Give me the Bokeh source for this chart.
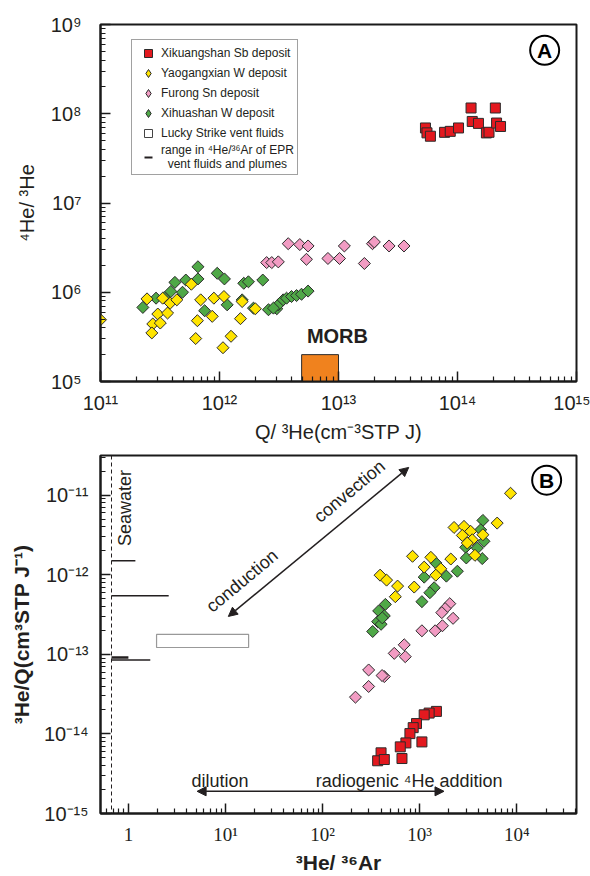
import numpy as np
from bokeh.plotting import figure
from bokeh.models import (FixedTicker, Legend, LegendItem, Arrow, NormalHead, Span, Range1d)
from bokeh.layouts import column
from bokeh.embed import file_html
from bokeh.resources import INLINE
from bokeh.core.properties import value

# ---------------- Panel A data: Q/3He vs 4He/3He ----------------
xik_a_q = [5.38e13, 5.54e13, 5.92e13, 7.79e13, 8.69e13, 1.02e14, 1.30e14, 1.33e14,
           1.50e14, 1.75e14, 1.84e14, 2.08e14, 2.13e14, 2.30e14]
xik_a_r = [6.93e7, 6.11e7, 5.60e7, 6.19e7, 6.35e7, 6.93e7, 1.16e8, 8.2e7,
           7.8e7, 6.1e7, 6.2e7, 1.16e8, 7.87e7, 7.2e7]

yao_a_q = [2.46e11, 3.33e11, 3.85e11, 4.38e11, 3.03e11, 3.66e11, 2.75e11, 3.18e11,
           2.7e11, 5.8e11, 6.95e11, 6.52e11, 8.97e11, 1.09e12, 8.69e11, 6.31e11,
           1.07e12, 1.25e12, 1.55e12, 1.5e12, 2.0e12, 1.0e11]
yao_a_r = [8.43e5, 8.58e5, 7.55e5, 8.22e5, 5.7e5, 5.85e5, 4.41e5, 4.52e5,
           3.5e5, 1.23e6, 8.22e5, 4.8e5, 8.58e5, 8.96e5, 5.37e5, 3.03e5,
           2.39e5, 3.21e5, 7.87e5, 5.06e5, 6.53e5, 4.92e5]

fur_a_q = [3.78e12, 4.73e12, 5.55e12, 2.49e12, 2.75e12, 3.12e12, 5.38e12, 8.15e12,
           1.02e13, 1.12e13, 1.65e13, 1.93e13, 2.0e13, 2.66e13, 3.55e13]
fur_a_r = [3.5e6, 3.42e6, 3.3e6, 2.15e6, 2.15e6, 2.19e6, 2.34e6, 2.39e6,
           2.39e6, 3.3e6, 2.1e6, 3.5e6, 3.66e6, 3.3e6, 3.3e6]

xih_a_q = [2.27e11, 2.93e11, 3.43e11, 3.9e11, 4.22e11, 4.89e11, 5.21e11, 6.59e11,
           6.59e11, 7.5e11, 9.57e11, 1.1e12, 1.16e12, 1.6e12, 1.75e12, 2.31e12,
           1.55e12, 1.93e12, 2.58e12, 3.03e12, 3.12e12, 3.43e12, 3.66e12, 4.03e12,
           4.44e12, 4.89e12, 5.55e12, 2.84e12]
xih_a_r = [6.76e5, 8.58e5, 8.73e5, 1.02e6, 1.29e6, 1.0e6, 1.37e6, 1.93e6,
           1.41e6, 6.21e5, 1.63e6, 1.41e6, 7.23e5, 1.26e6, 1.31e6, 1.37e6,
           8.22e5, 6.64e5, 6.37e5, 6.53e5, 7.23e5, 8.22e5, 8.58e5, 8.96e5,
           9.18e5, 9.5e5, 1.03e6, 6.64e5]

# MORB box (Q/3He range, 4He/3He range)
morb_q = [4.9e12, 1.0e13]
morb_r = [1.0e5, 2.0e5]

# ---------------- Panel B data: 3He/36Ar vs 3He/Q ----------------
yao_b_x = [8615, 2259, 2860, 3350, 2748, 3477, 4477, 6280, 3710, 844, 1303,
           2090, 1112, 1649, 1466, 391, 456, 592, 878, 561, 3090]
yao_b_y = [1.06e-11, 3.94e-12, 4.06e-12, 3.52e-12, 3.13e-12, 2.76e-12, 3.19e-12,
           4.47e-12, 1.76e-12, 1.71e-12, 1.66e-12, 1.58e-12, 1.25e-12, 1.19e-12,
           9.9e-13, 9.9e-13, 8.58e-13, 7.22e-13, 7.02e-13, 5.31e-13, 2.51e-12]

xih_b_x = [4477, 4245, 4590, 2978, 3918, 3020, 4406, 1466, 2443, 1883, 1112,
           1409, 1273, 1054, 443, 378, 432, 369, 400, 328, 412]
xih_b_y = [4.83e-12, 3.68e-12, 2.64e-12, 2.22e-12, 2.17e-12, 1.63e-12, 1.6e-12,
           1.41e-12, 1.11e-12, 9.63e-13, 9.35e-13, 6.88e-13, 5.96e-13, 4.6e-13,
           4.25e-13, 3.52e-13, 3.05e-13, 2.58e-13, 2.39e-13, 1.94e-13, 2.88e-13]

fur_b_x = [2041, 1828, 1690, 2206, 1714, 1442, 1054, 693, 547, 710, 298, 432,
           410, 298, 218]
fur_b_y = [4.34e-13, 3.76e-13, 3.35e-13, 2.84e-13, 2.29e-13, 1.98e-13, 1.98e-13,
           1.32e-13, 1.03e-13, 9.36e-14, 6.37e-14, 5.26e-14, 5.42e-14, 3.95e-14, 2.9e-14]

xik_b_x = [1487, 1251, 1112, 927, 857, 793, 721, 631, 1054, 657, 400, 369, 432]
xik_b_y = [1.92e-14, 1.83e-14, 1.74e-14, 1.35e-14, 1.2e-14, 1.01e-14, 7.71e-15,
           6.88e-15, 7.94e-15, 4.91e-15, 5.79e-15, 4.6e-15, 4.77e-15]

# Seawater 3He/36Ar
seawater_x = 0.67
# EPR vent fluids & plumes: 3He/Q level and upper 3He/36Ar bound
epr_y = [1.5e-12, 5.46e-13, 9.17e-14, 8.5e-14]
epr_x_end = [1.18, 2.6, 1.0, 1.68]
epr_w = [1.5, 1.5, 2.5, 1.5]
# Lucky Strike vent fluids box
lucky_x = [1.95, 17.3]
lucky_y = [1.22e-13, 1.78e-13]

# ---------------- tick labels ----------------
a_x_ticks = [1e11, 1e12, 1e13, 1e14, 1e15]
a_x_labels = ["10¹¹", "10¹²", "10¹³", "10¹⁴", "10¹⁵"]
a_y_ticks = [1e5, 1e6, 1e7, 1e8, 1e9]
a_y_labels = ["10⁵", "10⁶", "10⁷", "10⁸", "10⁹"]
b_x_ticks = [1.0, 10.0, 100.0, 1000.0, 10000.0]
b_x_labels = ["1", "10¹", "10²", "10³", "10⁴"]
b_y_ticks = [1e-15, 1e-14, 1e-13, 1e-12, 1e-11]
b_y_labels = ["10⁻¹⁵", "10⁻¹⁴", "10⁻¹³", "10⁻¹²", "10⁻¹¹"]

RED, YEL, PINK, GRN = "#e3191f", "#ffe400", "#f29cc3", "#4fa847"
EDGE = "#2b2b2b"
INK = "#231f20"
SANS = "Liberation Sans"
NAN = [float("nan")]


def minors(lo_exp, hi_exp, lo, hi):
    out = []
    for e in range(lo_exp, hi_exp + 1):
        for m in range(2, 10):
            v = m * 10.0 ** e
            if lo < v < hi:
                out.append(v)
    return out


def style(p):
    p.grid.visible = False
    p.outline_line_color = "#1a1a1a"
    p.outline_line_width = 2
    p.background_fill_color = "white"
    p.border_fill_color = "white"
    for ax in (p.xaxis[0], p.yaxis[0]):
        ax.axis_line_width = 2
        ax.axis_line_color = "#1a1a1a"
        ax.major_tick_in = 10
        ax.major_tick_out = 0
        ax.minor_tick_in = 5
        ax.minor_tick_out = 0
        ax.major_tick_line_width = 1.5
        ax.minor_tick_line_width = 1.2
        ax.major_tick_line_color = "#1a1a1a"
        ax.minor_tick_line_color = "#1a1a1a"
        ax.major_label_text_color = INK
        ax.axis_label_text_color = INK


# ================= Panel A =================
pA = figure(width=590, height=445, x_axis_type="log", y_axis_type="log",
            x_range=Range1d(1e11, 1e15), y_range=Range1d(1e5, 1e9),
            output_backend="svg", toolbar_location=None,
            min_border_left=100, min_border_right=14, min_border_top=24,
            min_border_bottom=61)
style(pA)
pA.xaxis[0].ticker = FixedTicker(ticks=a_x_ticks, minor_ticks=minors(11, 14, 1e11, 1e15))
pA.yaxis[0].ticker = FixedTicker(ticks=a_y_ticks, minor_ticks=minors(5, 8, 1e5, 1e9))
pA.xaxis[0].major_label_overrides = dict(zip(a_x_ticks, a_x_labels))
pA.yaxis[0].major_label_overrides = dict(zip(a_y_ticks, a_y_labels))
for ax in (pA.xaxis[0], pA.yaxis[0]):
    ax.major_label_text_font = SANS
    ax.major_label_text_font_size = "20px"
    ax.axis_label_text_font = SANS
    ax.axis_label_text_font_style = "normal"
    ax.axis_label_text_font_size = "20px"
pA.xaxis[0].major_label_standoff = 10
pA.xaxis[0].axis_label_standoff = 4
pA.yaxis[0].major_label_standoff = 19
pA.yaxis[0].axis_label_standoff = 10
pA.xaxis[0].axis_label = "Q/ ³He(cm⁻³STP J)"
pA.yaxis[0].axis_label = "⁴He/ ³He"

pA.quad(left=[morb_q[0]], right=[morb_q[1]], bottom=[morb_r[0]], top=[morb_r[1]],
        fill_color="#f0821e", line_color=EDGE, line_width=1)
pA.text(x=[9.8e12], y=[3.25e5], text=["MORB"], text_font=value(SANS),
        text_font_style="bold", text_font_size="20px", text_align="center",
        text_baseline="middle", text_color=INK)

pA.scatter(xih_a_q, xih_a_r, marker="square", angle=np.pi / 4, size=8.5,
           fill_color=GRN, line_color=EDGE, line_width=1)
pA.scatter(yao_a_q, yao_a_r, marker="square", angle=np.pi / 4, size=8.5,
           fill_color=YEL, line_color=EDGE, line_width=1)
pA.scatter(fur_a_q, fur_a_r, marker="square", angle=np.pi / 4, size=8.5,
           fill_color=PINK, line_color=EDGE, line_width=1)
r_red = pA.scatter(xik_a_q, xik_a_r, marker="square", size=10,
                   fill_color=RED, line_color=EDGE, line_width=1)

# legend swatches (no visible data of their own)
lg_yel = pA.scatter(NAN, NAN, marker="diamond", size=10, fill_color=YEL, line_color=EDGE, line_width=1)
lg_pnk = pA.scatter(NAN, NAN, marker="diamond", size=10, fill_color=PINK, line_color=EDGE, line_width=1)
lg_grn = pA.scatter(NAN, NAN, marker="diamond", size=10, fill_color=GRN, line_color=EDGE, line_width=1)
lg_ls = pA.scatter(NAN, NAN, marker="square", size=10, fill_color="white",
                   line_color="#444444", line_width=1)
lg_epr = pA.scatter(NAN, NAN, marker="dash", size=10, line_color=INK, line_width=2)

legend = Legend(items=[
    LegendItem(label="Xikuangshan Sb deposit", renderers=[r_red]),
    LegendItem(label="Yaogangxian W deposit", renderers=[lg_yel]),
    LegendItem(label="Furong Sn deposit", renderers=[lg_pnk]),
    LegendItem(label="Xihuashan W deposit", renderers=[lg_grn]),
    LegendItem(label="Lucky Strike vent fluids", renderers=[lg_ls]),
    LegendItem(label="range in ⁴He/³⁶Ar of EPR\n  vent fluids and plumes", renderers=[lg_epr]),
], location=(31, 206))
legend.label_text_font = SANS
legend.label_text_font_size = "12px"
legend.label_text_color = INK
legend.label_text_line_height = 1.35
legend.glyph_width = 26
legend.glyph_height = 20
legend.label_height = 20
legend.label_standoff = 0
legend.spacing = 0
legend.padding = 3
legend.margin = 0
legend.border_line_color = "#444444"
legend.border_line_width = 1.5
legend.background_fill_alpha = 1
pA.add_layout(legend)

# panel badge A
pA.scatter(x=[5.4e14], y=[5.14e8], marker="circle", size=29, fill_color="white",
           line_color="black", line_width=2)
pA.text(x=[5.4e14], y=[5.14e8], text=["A"], text_font=value(SANS),
        text_font_style="bold", text_font_size="21px", text_align="center",
        text_baseline="middle", text_color="black")

# ================= Panel B =================
pB = figure(width=590, height=431, x_axis_type="log", y_axis_type="log",
            x_range=Range1d(0.516, 41200), y_range=Range1d(1e-15, 3.162e-11),
            output_backend="svg", toolbar_location=None,
            min_border_left=100, min_border_right=12, min_border_top=10,
            min_border_bottom=60)
style(pB)
pB.xaxis[0].ticker = FixedTicker(ticks=b_x_ticks, minor_ticks=minors(-1, 4, 0.516, 41200))
pB.yaxis[0].ticker = FixedTicker(ticks=b_y_ticks, minor_ticks=minors(-15, -11, 1e-15, 3.162e-11))
pB.xaxis[0].major_label_overrides = dict(zip(b_x_ticks, b_x_labels))
pB.yaxis[0].major_label_overrides = dict(zip(b_y_ticks, b_y_labels))
pB.xaxis[0].major_label_text_font = "Liberation Serif"
pB.xaxis[0].major_label_text_font_size = "19px"
pB.yaxis[0].major_label_text_font = SANS
pB.yaxis[0].major_label_text_font_size = "20px"
for ax in (pB.xaxis[0], pB.yaxis[0]):
    ax.axis_label_text_font = SANS
    ax.axis_label_text_font_style = "bold"
    ax.axis_label_text_font_size = "21px"
pB.xaxis[0].major_label_standoff = 10
pB.xaxis[0].axis_label_standoff = 3
pB.yaxis[0].major_label_standoff = 12
pB.yaxis[0].axis_label_standoff = 8
pB.xaxis[0].axis_label = "³He/ ³⁶Ar"
pB.yaxis[0].axis_label = "³He/Q(cm³STP J⁻¹)"

pB.add_layout(Span(location=seawater_x, dimension="height", line_color=INK,
                   line_width=1, line_dash="4 3"))
pB.text(x=[0.93], y=[6.9e-12], text=["Seawater"], angle=np.pi / 2,
        text_font=value(SANS), text_font_size="18px", text_align="center",
        text_baseline="middle", text_color=INK)
pB.segment(x0=[seawater_x] * len(epr_y), y0=epr_y, x1=epr_x_end, y1=epr_y,
           line_color=INK, line_width=epr_w)
pB.quad(left=[lucky_x[0]], right=[lucky_x[1]], bottom=[lucky_y[0]], top=[lucky_y[1]],
        fill_color="white", line_color="#999999", line_width=1.2)

pB.scatter(xik_b_x, xik_b_y, marker="square", size=10, fill_color=RED,
           line_color=EDGE, line_width=1)
pB.scatter(fur_b_x, fur_b_y, marker="square", angle=np.pi / 4, size=8.5,
           fill_color=PINK, line_color=EDGE, line_width=1)
pB.scatter(xih_b_x, xih_b_y, marker="square", angle=np.pi / 4, size=8.5,
           fill_color=GRN, line_color=EDGE, line_width=1)
pB.scatter(yao_b_x, yao_b_y, marker="square", angle=np.pi / 4, size=8.5,
           fill_color=YEL, line_color=EDGE, line_width=1)

# conduction / convection arrow
pB.add_layout(Arrow(x_start=10.7, y_start=3.0e-13, x_end=771, y_end=2.24e-11,
                    line_color=INK, line_width=1.5,
                    start=NormalHead(size=9, fill_color=INK, line_color=INK),
                    end=NormalHead(size=9, fill_color=INK, line_color=INK)))
pB.text(x=[14.8], y=[8.4e-13], text=["conduction"], angle=0.695,
        text_font=value(SANS), text_font_size="18px", text_align="center",
        text_baseline="middle", text_color=INK)
pB.text(x=[189], y=[1.12e-11], text=["convection"], angle=0.695,
        text_font=value(SANS), text_font_size="18px", text_align="center",
        text_baseline="middle", text_color=INK)

# dilution / radiogenic arrow
pB.add_layout(Arrow(x_start=5.1, y_start=1.9e-15, x_end=1780, y_end=1.9e-15,
                    line_color=INK, line_width=1.5,
                    start=NormalHead(size=9, fill_color=INK, line_color=INK),
                    end=NormalHead(size=9, fill_color=INK, line_color=INK)))
pB.text(x=[8.8], y=[2.59e-15], text=["dilution"], text_font=value(SANS),
        text_font_size="18px", text_align="center", text_baseline="middle",
        text_color=INK)
pB.text(x=[85], y=[2.59e-15], text=["radiogenic ⁴He addition"], text_font=value(SANS),
        text_font_size="18px", text_align="left", text_baseline="middle",
        text_color=INK)

# panel badge B
pB.scatter(x=[2.03e4], y=[1.55e-11], marker="circle", size=29, fill_color="white",
           line_color="black", line_width=2)
pB.text(x=[2.03e4], y=[1.55e-11], text=["B"], text_font=value(SANS),
        text_font_style="bold", text_font_size="21px", text_align="center",
        text_baseline="middle", text_color="black")

layout = column(pA, pB, spacing=0)
open("out.html", "w").write(file_html(layout, INLINE))
